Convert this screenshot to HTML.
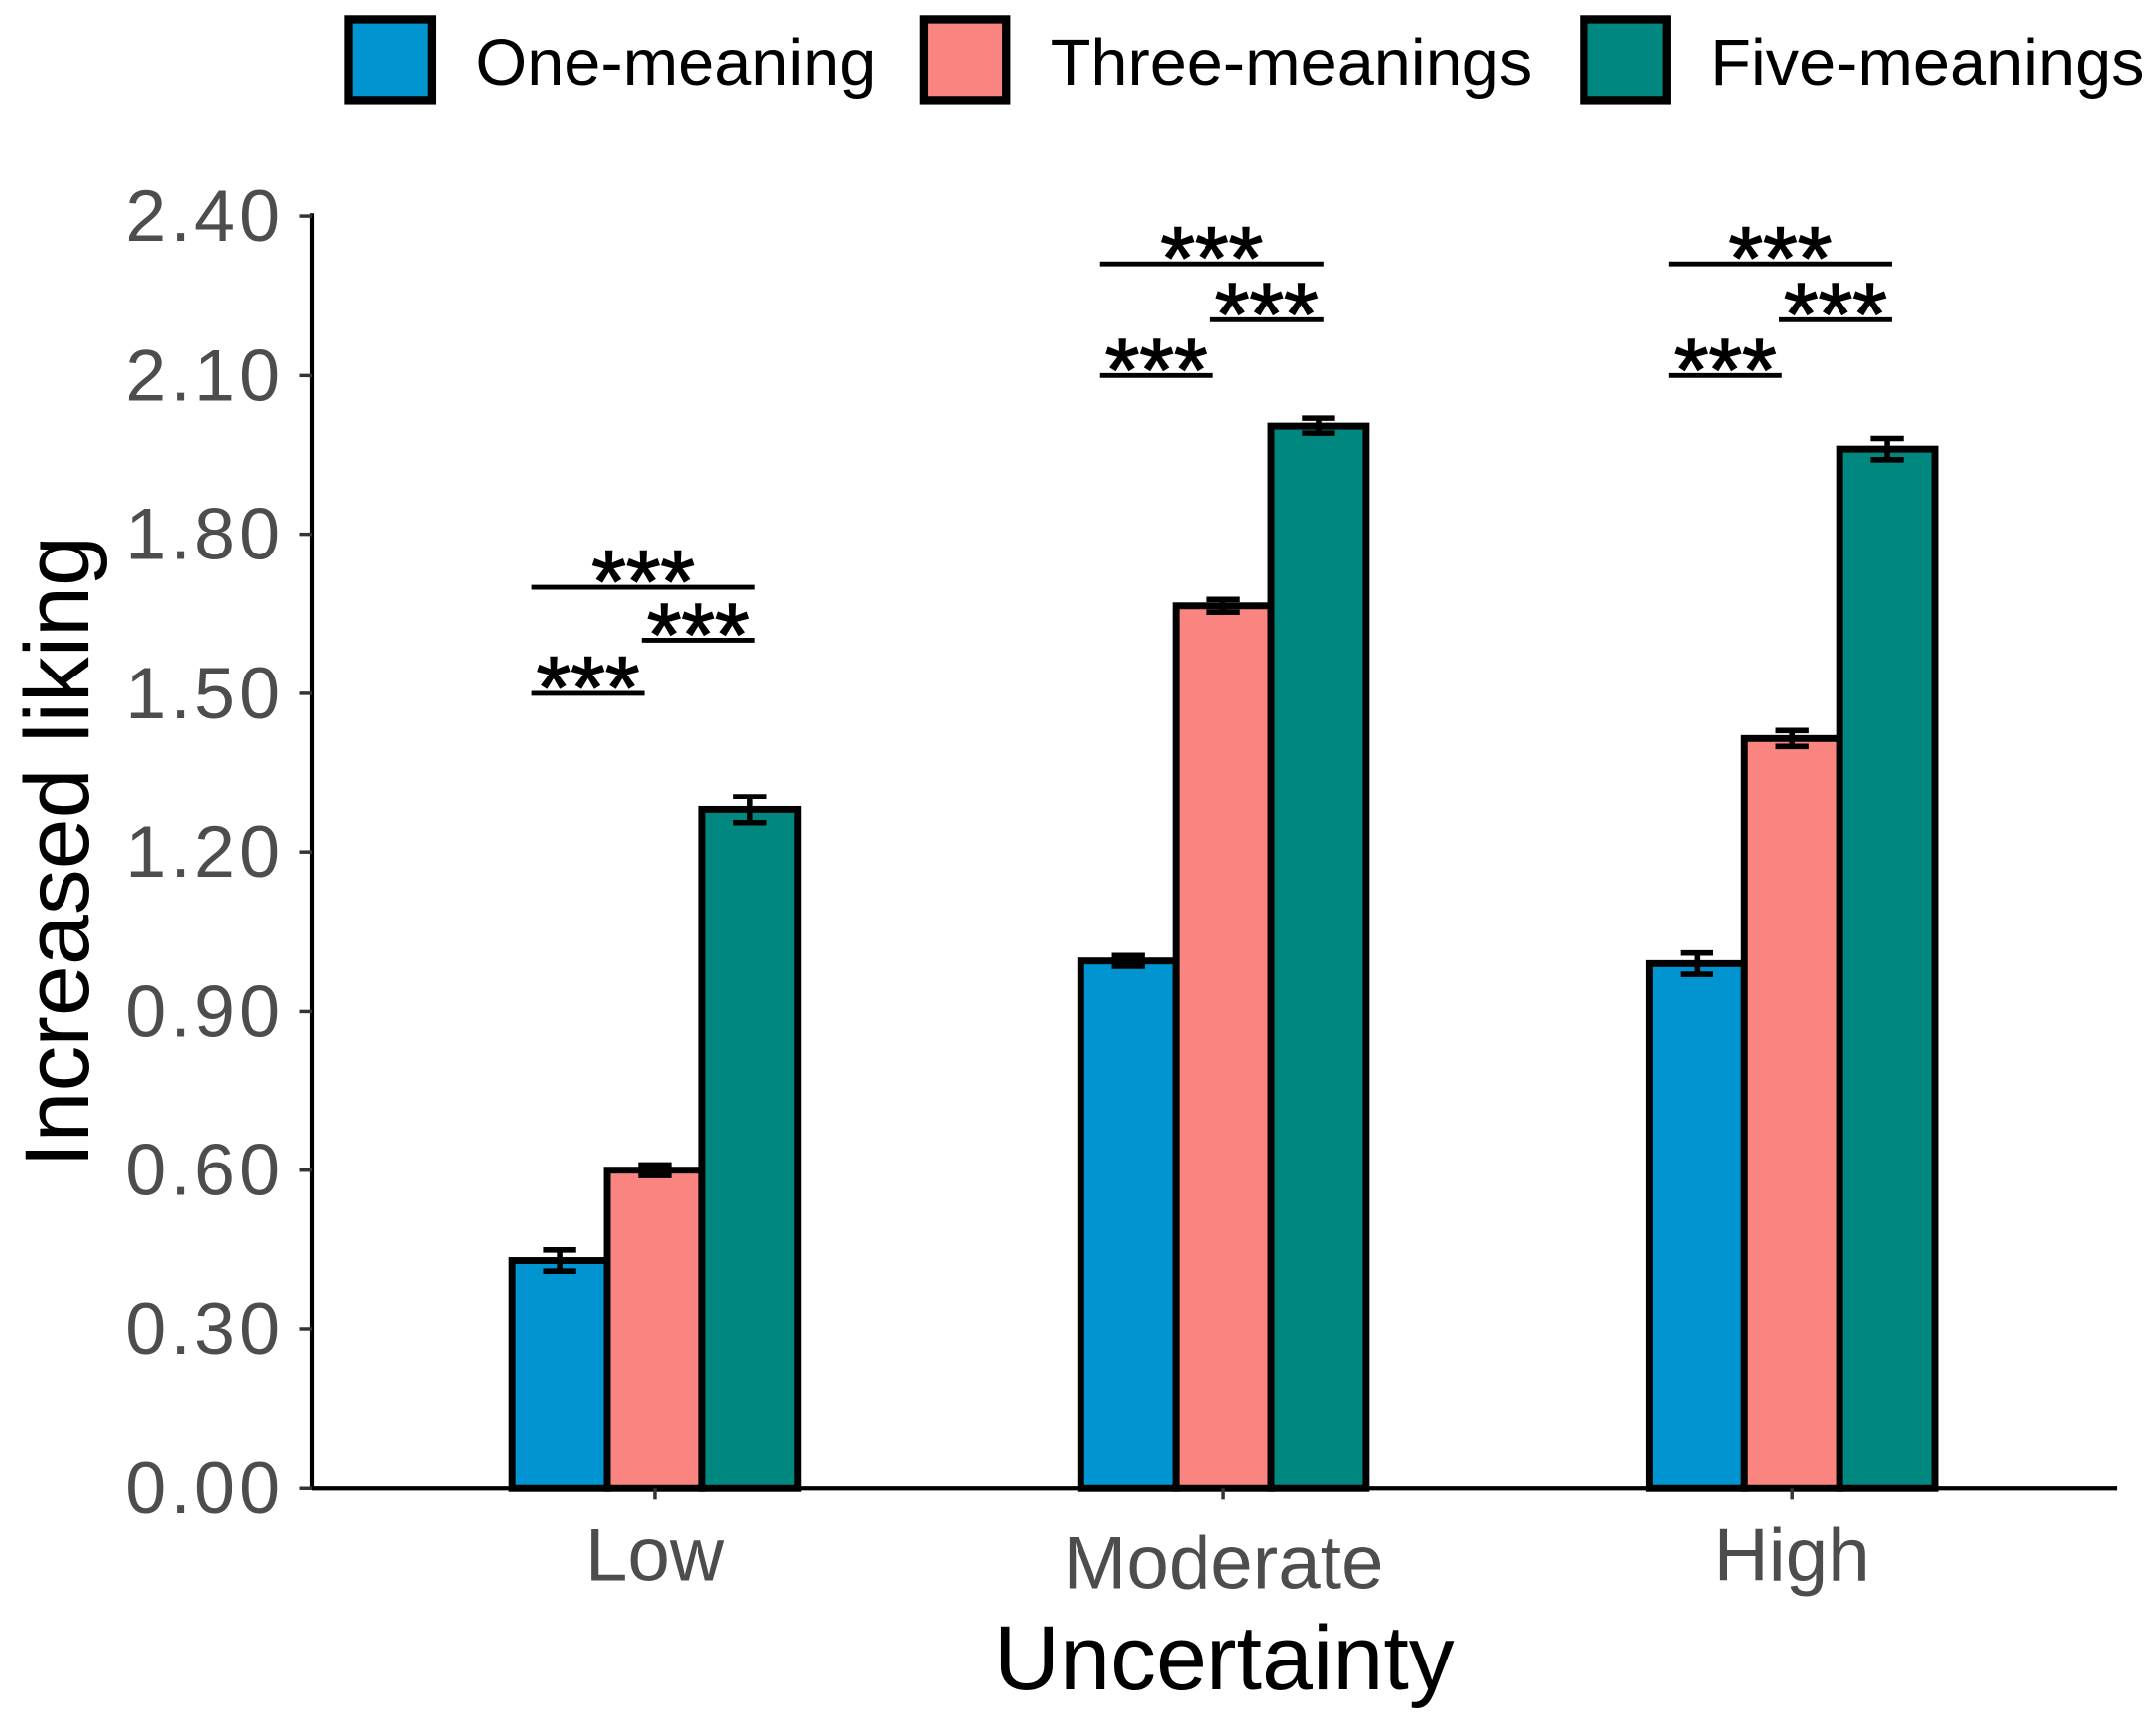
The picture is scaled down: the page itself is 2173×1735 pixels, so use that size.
<!DOCTYPE html>
<html><head><meta charset="utf-8"><style>
html,body{margin:0;padding:0;background:#fff;}
svg{display:block;}
text{font-family:"Liberation Sans",Arial,sans-serif;}
</style></head><body>
<svg id="chart" width="2173" height="1735" viewBox="0 0 1564 1249" preserveAspectRatio="none" xmlns="http://www.w3.org/2000/svg">
<g id="legend"></g>
<g id="yaxis"></g>
<g id="bars"></g>
<g id="sig"></g>
<g id="xaxis"></g>
<text x="0" y="0" transform="translate(64,618) rotate(-90)" text-anchor="middle" font-size="66" fill="#000">Increased liking</text>
<text x="888" y="1226" text-anchor="middle" font-size="66" fill="#000">Uncertainty</text>
</svg>
<script>
const categories = ["Low", "Moderate", "High"];
const seriesNames = ["One-meaning", "Three-meanings", "Five-meanings"];
const seriesColors = ["#0094d1", "#f98480", "#00877f"];
const oneMeaning = [0.43, 0.995, 0.99];
const threeMeanings = [0.60, 1.665, 1.415];
const fiveMeanings = [1.28, 2.005, 1.96];
const oneErr = [0.02, 0.01, 0.02];
const threeErr = [0.01, 0.012, 0.015];
const fiveErr = [0.025, 0.015, 0.02];
const yTicks = [0, 0.3, 0.6, 0.9, 1.2, 1.5, 1.8, 2.1, 2.4];
const yTickLabels = ["0.00", "0.30", "0.60", "0.90", "1.20", "1.50", "1.80", "2.10", "2.40"];
const sigLevels = [[1.50, 1.60, 1.70], [2.10, 2.205, 2.31], [2.10, 2.205, 2.31]];
const sigLabels = ["***", "***", "***"];

const NS = "http://www.w3.org/2000/svg";
function mk(tag, attrs, parent) {
  const e = document.createElementNS(NS, tag);
  for (const k in attrs) e.setAttribute(k, attrs[k]);
  parent.appendChild(e);
  return e;
}
const x0 = 226, yTop = 157, yBase = 1080, yMax = 2.4;
function yScale(v) { return yBase - (v / yMax) * (yBase - yTop); }
const groupCenters0 = 475, groupStep = 414.5, barW = 69;
function xCenter(i) { return groupCenters0 + i * groupStep; }
function barX(i, s) { return xCenter(i) + (s - 1.5) * barW - 2 * i; }

const ya = document.getElementById('yaxis');
const yl = mk('line', {x1: x0, y1: yTop - 2, x2: x0, y2: yBase, stroke: '#000', 'stroke-width': 3}, ya);


yTicks.forEach((t, i) => {
  const y = yScale(t);
  const tk = mk('line', {x1: x0 - 9, y1: y, x2: x0, y2: y, stroke: '#333', 'stroke-width': 2.5}, ya);
  
  
  const tx = mk('text', {x: x0 - 20, y: y + 18, 'text-anchor': 'end', 'font-size': 53, 'letter-spacing': 3, fill: '#4d4d4d'}, ya);
  tx.textContent = yTickLabels[i];
  
  
});
const xa = document.getElementById('xaxis');
const xl = mk('line', {x1: x0, y1: yBase, x2: 1536, y2: yBase, stroke: '#000', 'stroke-width': 3}, xa);


const xLabelDy = [67, 73, 67];
categories.forEach((c, i) => {
  const cx = xCenter(i) - 2 * i;
  const tk = mk('line', {x1: cx, y1: yBase, x2: cx, y2: yBase + 8, stroke: '#333', 'stroke-width': 2.5}, xa);
  
  
  const tx = mk('text', {x: cx, y: yBase + xLabelDy[i], 'text-anchor': 'middle', 'font-size': 55, fill: '#4d4d4d'}, xa);
  tx.textContent = c;
  
  
});

const bg = document.getElementById('bars');
const allVals = [oneMeaning, threeMeanings, fiveMeanings];
const allErr = [oneErr, threeErr, fiveErr];
categories.forEach((c, i) => {
  allVals.forEach((vals, s) => {
    const v = vals[i];
    const x = barX(i, s);
    const r = mk('rect', {x: x, y: yScale(v), width: barW, height: yBase - yScale(v), fill: seriesColors[s], stroke: '#000', 'stroke-width': 5}, bg);
    
    
    const e = allErr[s][i];
    const cx = x + barW / 2;
    const eb = mk('path', {d: `M${cx-12},${yScale(v+e)}H${cx+12}M${cx},${yScale(v+e)}V${yScale(v-e)}M${cx-12},${yScale(v-e)}H${cx+12}`, stroke: '#000', 'stroke-width': 4, fill: 'none'}, bg);
    
    
  });
});

const sg = document.getElementById('sig');
categories.forEach((c, i) => {
  const L = sigLevels[i];
  const left = barX(i, 0) + 14, mid = barX(i, 1) + 27, mid2 = barX(i, 1) + 25, right = barX(i, 2) + 38;
  const segs = [[left, mid, L[0]], [mid2, right, L[1]], [left, right, L[2]]];
  segs.forEach((sgm, k) => {
    const y = yScale(sgm[2]);
    const ln = mk('line', {x1: sgm[0], y1: y, x2: sgm[1], y2: y, stroke: '#000', 'stroke-width': 3.5}, sg);
    
    
    const t = mk('text', {x: (sgm[0] + sgm[1]) / 2, y: y + 18, 'text-anchor': 'middle', 'font-size': 64, fill: '#000', stroke: '#000', 'stroke-width': 1}, sg);
    t.textContent = sigLabels[k];
    
    
  });
});

const lg = document.getElementById('legend');
const keyX = [251, 668, 1147];
seriesNames.forEach((n, s) => {
  const r = mk('rect', {x: keyX[s] + 2, y: 14, width: 60, height: 59, fill: seriesColors[s], stroke: '#000', 'stroke-width': 6}, lg);
  
  
  const t = mk('text', {x: keyX[s] + 94, y: 62, 'font-size': 48, fill: '#000'}, lg);
  t.textContent = n;
  
  
});
</script>
</body></html>
